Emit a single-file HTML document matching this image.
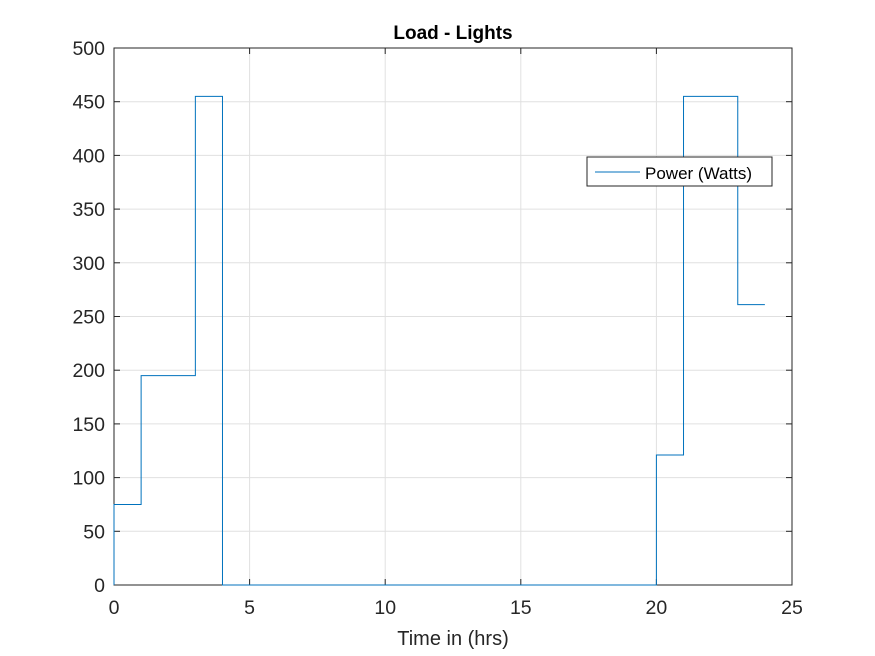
<!DOCTYPE html>
<html><head><meta charset="utf-8"><style>
body{margin:0;background:#fff;}
svg{display:block;font-family:"Liberation Sans",Arial,sans-serif;}
</style></head><body>
<svg id="chart" width="875" height="656">
<rect x="0" y="0" width="875" height="656" fill="#fff"/>
<g id="grid"></g>
<rect x="114" y="48" width="678" height="537" fill="none" stroke="#262626" stroke-width="1"/>
<g id="ticks"></g>
<path id="series" fill="none" stroke="#0072BD" stroke-width="1"/>
<text x="453" y="39" text-anchor="middle" font-size="19" font-weight="bold" fill="#000">Load - Lights</text>
<text x="453" y="645" text-anchor="middle" font-size="20" fill="#262626">Time in (hrs)</text>
<g>
<rect x="587" y="157" width="185" height="29" fill="#fff" stroke="#262626" stroke-width="1"/>
<line x1="595" y1="172" x2="640" y2="172" stroke="#0072BD"/>
<text x="645" y="179" font-size="17" fill="#000">Power (Watts)</text>
</g>
</svg>
<script>
const times=[0,1,3,4,20,21,23,24];
const power=[75,195,455,0,121,455,261];
const xTicks=[0,5,10,15,20,25];
const yTicks=[0,50,100,150,200,250,300,350,400,450,500];
const X0=114,X1=792,Y0=585,Y1=48;
const xs=v=>X0+(v-0)/25*(X1-X0);
const ys=v=>Y0-(v-0)/500*(Y0-Y1);
const ns="http://www.w3.org/2000/svg";
const grid=document.getElementById('grid'),ticks=document.getElementById('ticks');
function mk(tag,attrs,parent){const e=document.createElementNS(ns,tag);for(const k in attrs)e.setAttribute(k,attrs[k]);parent.appendChild(e);return e;}
xTicks.forEach(t=>{
  const x=xs(t);
  const g=mk('line',{x1:x,x2:x,y1:Y1,y2:Y0,stroke:'#e0e0e0'},grid);
  
  
  const tk=mk('line',{x1:x,x2:x,y1:Y0,y2:Y0-6,stroke:'#262626'},ticks);
  
  
  const tk2=mk('line',{x1:x,x2:x,y1:Y1,y2:Y1+6,stroke:'#262626'},ticks);
  
  
  const l=mk('text',{x:x,y:Y0+29,'text-anchor':'middle','font-size':19.5,fill:'#262626'},ticks);
  l.textContent=t;
  
  
});
yTicks.forEach(t=>{
  const y=ys(t);
  const g=mk('line',{x1:X0,x2:X1,y1:y,y2:y,stroke:'#e0e0e0'},grid);
  
  
  const tk=mk('line',{x1:X0,x2:X0+6,y1:y,y2:y,stroke:'#262626'},ticks);
  
  
  const tk2=mk('line',{x1:X1,x2:X1-6,y1:y,y2:y,stroke:'#262626'},ticks);
  
  
  const l=mk('text',{x:X0-9,y:y+7,'text-anchor':'end','font-size':19.5,fill:'#262626'},ticks);
  l.textContent=t;
  
  
});
let d='M'+xs(times[0])+','+ys(0);
for(let i=0;i<power.length;i++){
  d+=' L'+xs(times[i])+','+ys(power[i])+' L'+xs(times[i+1])+','+ys(power[i]);
}
document.getElementById('series').setAttribute('d',d);
</script>
</body></html>
